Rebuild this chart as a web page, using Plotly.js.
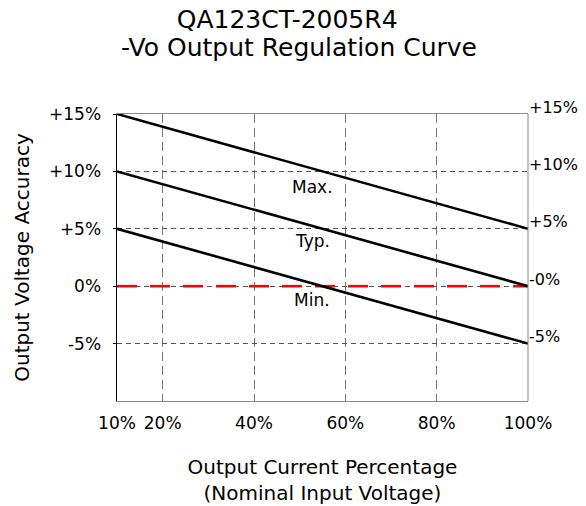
<!DOCTYPE html>
<html>
<head>
<meta charset="utf-8">
<script src="https://cdn.plot.ly/plotly-3.0.1.min.js"></script>
<style>html,body{margin:0;padding:0;background:#fff;}#chart{width:586px;height:506px;}</style>
</head>
<body>
<div id="chart"></div>
<script>
// ---- data ----
const loadPct = [10, 100];            // output current percentage (%)
const maxAcc  = [15, 5];              // Max. curve (%)
const typAcc  = [10, 0];              // Typ. curve (%)
const minAcc  = [5, -5];              // Min. curve (%)
const refAcc  = [0, 0];               // 0% reference level

const xTickVals  = [10, 20, 40, 60, 80, 100];
const xTickText  = ['10%', '20%', '40%', '60%', '80%', '100%'];
const yTickVals  = [-5, 0, 5, 10, 15];
const yTickText  = ['-5%', '0%', '+5%', '+10%', '+15%'];
const rightTickText = ['-5%', '-0%', '+5%', '+10%', '+15%'];

const curveNames = ['Max.', 'Typ.', 'Min.'];
const curveLabelX = [52.8, 52.8, 52.8];
const curveLabelY = [8.6, 3.9, -1.2];

const titleText = 'QA123CT-2005R4';
const subtitleText = '-Vo Output Regulation Curve';

const FONT = 'DejaVu Sans, Arial, sans-serif';

const traces = [
  {x: loadPct, y: refAcc, mode: 'lines', line: {color: '#ff0000', width: 2.5, dash: '20px,13px'}, hoverinfo: 'skip'},
  {x: loadPct, y: maxAcc, mode: 'lines', name: 'Max.', line: {color: '#000', width: 2.6}},
  {x: loadPct, y: typAcc, mode: 'lines', name: 'Typ.', line: {color: '#000', width: 2.6}},
  {x: loadPct, y: minAcc, mode: 'lines', name: 'Min.', line: {color: '#000', width: 2.6}}
];

const annotations = [];
curveNames.forEach((n, i) => annotations.push({
  x: curveLabelX[i], y: curveLabelY[i], xref: 'x', yref: 'y', text: n, showarrow: false,
  font: {family: FONT, size: 17, color: '#000'}
}));
yTickVals.forEach((v, i) => annotations.push({
  x: 1, y: v, xref: 'paper', yref: 'y', text: rightTickText[i], showarrow: false,
  xanchor: 'left', yanchor: 'middle', xshift: -1, yshift: 7,
  font: {family: FONT, size: 16, color: '#000'}
}));
annotations.push({
  x: 0.443, y: 1.2315, xref: 'paper', yref: 'paper', text: subtitleText, showarrow: false,
  xanchor: 'center', yanchor: 'middle',
  font: {family: FONT, size: 25, color: '#000'}
});

const layout = {
  width: 586, height: 506,
  paper_bgcolor: '#fff', plot_bgcolor: '#fff',
  margin: {l: 117, r: 58, t: 114, b: 105},
  showlegend: false,
  font: {family: FONT, color: '#000'},
  title: {
    text: titleText,
    font: {family: FONT, size: 25, color: '#000'},
    x: 0.49, xanchor: 'center', xref: 'container',
    y: 0.9625, yanchor: 'middle', yref: 'container'
  },
  xaxis: {
    range: [10, 100], tickvals: xTickVals, ticktext: xTickText,
    showgrid: true, gridcolor: '#777', gridwidth: 1, griddash: '9px,5px',
    showline: true, linecolor: '#888', linewidth: 1, mirror: true,
    zeroline: false, ticks: '', ticklabelstandoff: 7,
    tickfont: {family: FONT, size: 17, color: '#000'},
    title: {text: 'Output Current Percentage<br>(Nominal Input Voltage)', standoff: 27,
            font: {family: FONT, size: 20, color: '#000'}},
    fixedrange: true
  },
  yaxis: {
    range: [-10, 15], tickvals: yTickVals, ticktext: yTickText,
    showgrid: true, gridcolor: '#555', gridwidth: 1, griddash: '5px,4px',
    showline: true, linecolor: '#000', linewidth: 1.5, mirror: false,
    zeroline: false, ticks: 'outside', ticklen: 3, tickcolor: '#000', ticklabelstandoff: 8,
    tickfont: {family: FONT, size: 17, color: '#000'},
    title: {text: 'Output Voltage Accuracy', standoff: 14,
            font: {family: FONT, size: 20, color: '#000'}},
    fixedrange: true
  },
  shapes: [
    {type: 'line', xref: 'paper', yref: 'paper', x0: 1, x1: 1, y0: 0, y1: 1, line: {color: '#888', width: 1}}
  ],
  annotations: annotations
};

Plotly.newPlot('chart', traces, layout, {displayModeBar: false, staticPlot: true});
</script>
</body>
</html>
